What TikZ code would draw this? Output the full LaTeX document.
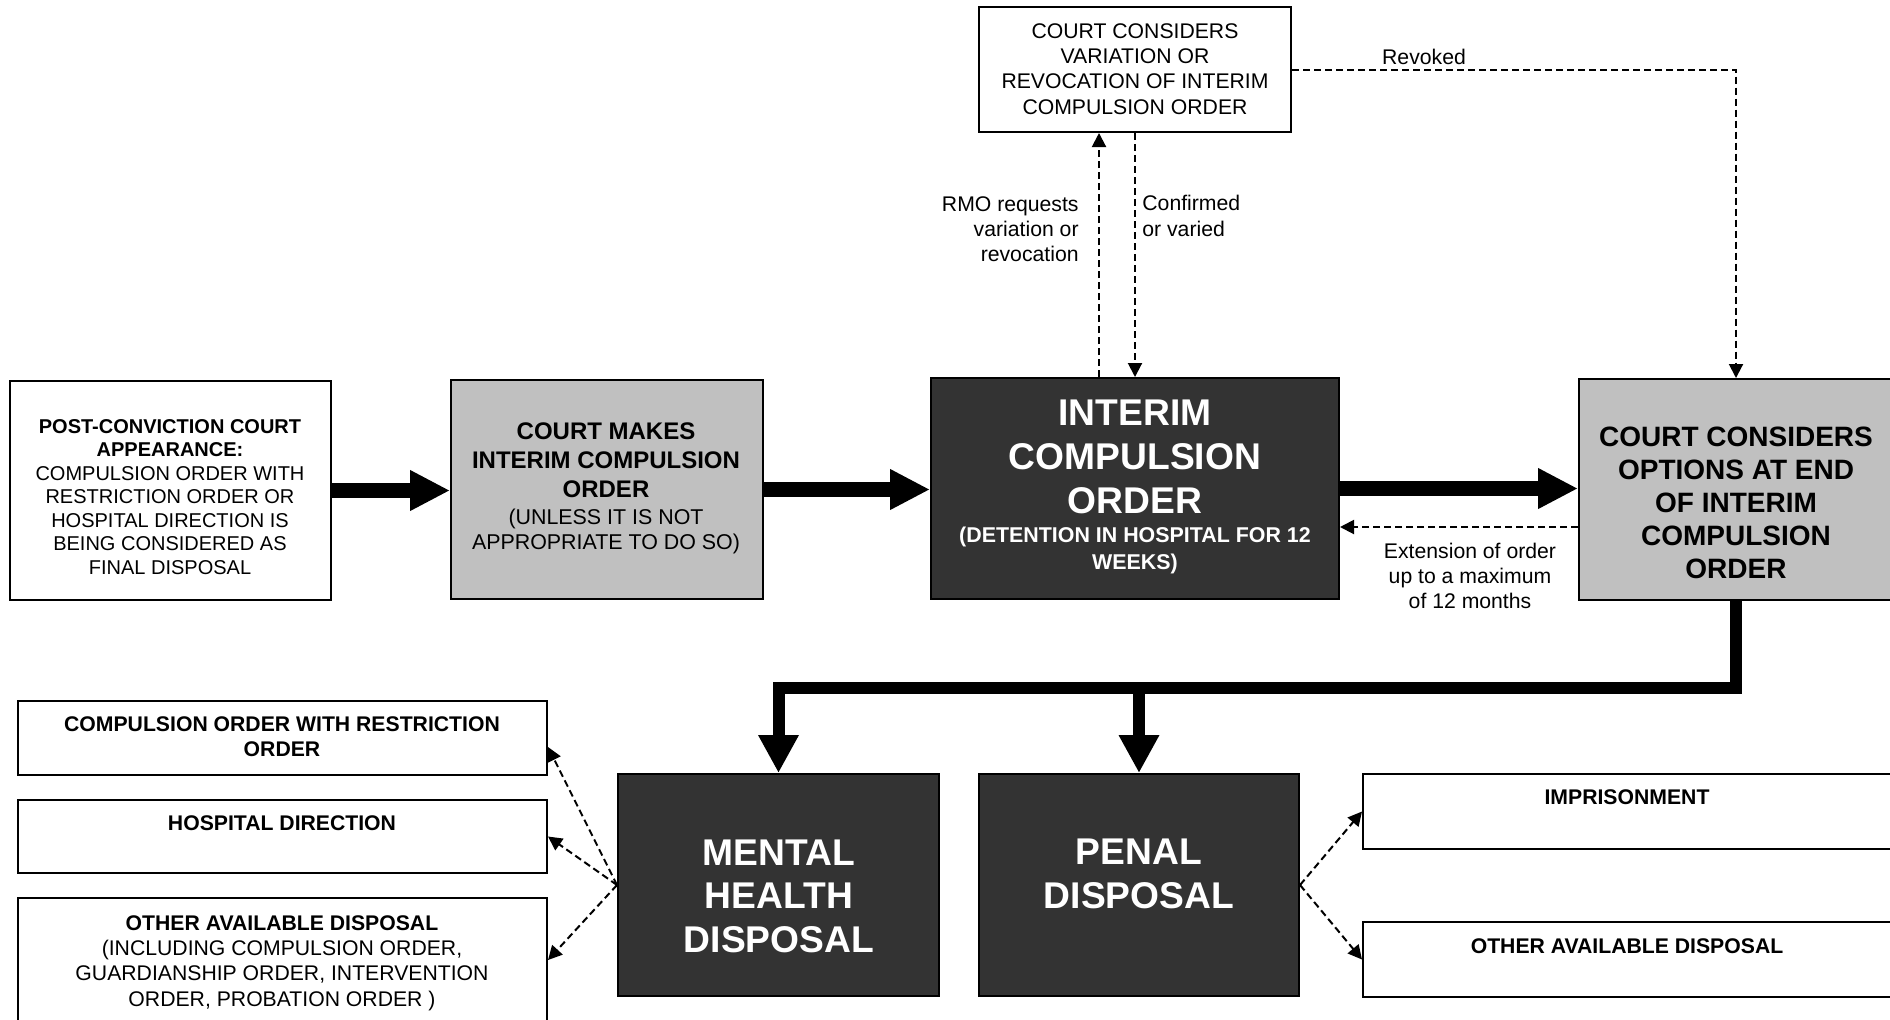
\documentclass[tikz,border=0pt]{standalone}
\usepackage{fontspec}
\setmainfont{Liberation Sans}
\usetikzlibrary{arrows.meta,fit,calc}

\definecolor{boxgrey}{HTML}{C0C0C0}
\definecolor{boxdark}{HTML}{333333}
\newcommand{\fsz}[2]{\fontsize{#1}{#2}\selectfont}

\begin{document}
\begin{tikzpicture}[x=0.5pt,y=-0.5pt,
  box/.style={draw=black, line width=1pt, inner sep=0pt},
  whitebox/.style={box, fill=white},
  greybox/.style={box, fill=boxgrey},
  darkbox/.style={box, fill=boxdark},
  txt/.style={inner sep=0pt, align=center},
  small/.style={txt, font=\fsz{10.6pt}{12.6pt}},
  smallbold/.style={txt, font=\bfseries\fsz{10.6pt}{12.6pt}},
  bigwhite/.style={txt, text=white, font=\bfseries\fsz{18.6pt}{21.8pt}},
  bigarrow/.style={line width=7.5pt, -{Triangle[length=20pt,width=19pt]}},
  busline/.style={line width=6pt, line join=miter},
  busarrow/.style={busline, -{Triangle[length=19pt,width=19pt]}},
  dasharrow/.style={line width=1pt, dash pattern=on 3.5pt off 2pt,
    -{Triangle[length=7pt,width=7pt]}}
]
\fill[white] (0,0) rectangle (1890,1019);
\useasboundingbox (0,0) rectangle (1890,1019);

% ---------- boxes ----------
\node[whitebox, fit={(10,381) (331,600)}] (post) {};
\node[greybox,  fit={(451,380) (763,599)}] (makes) {};
\node[darkbox,  fit={(931,378) (1339,599)}] (ico) {};
\node[greybox,  fit={(1579,379) (1893,600)}] (opts) {};
\node[whitebox, fit={(979,7) (1291,132)}] (var) {};
\node[darkbox,  fit={(618,774) (939,996)}] (mh) {};
\node[darkbox,  fit={(979,774) (1299,996)}] (pen) {};
\node[whitebox, fit={(18,701) (547,775)}] (cwro) {};
\node[whitebox, fit={(18,800) (547,873)}] (hosp) {};
\node[whitebox, fit={(18,898) (547,1022)}] (othL) {};
\node[whitebox, fit={(1363,774) (1893,849)}] (imp) {};
\node[whitebox, fit={(1363,922) (1893,997)}] (othR) {};

% ---------- box texts ----------
\node[txt, font=\fsz{10pt}{11.75pt}] (t-post) at (170,497)
  {\textbf{POST-CONVICTION COURT}\\\textbf{APPEARANCE:}\\COMPULSION ORDER WITH\\RESTRICTION ORDER OR\\HOSPITAL DIRECTION IS\\BEING CONSIDERED AS\\FINAL DISPOSAL};
\node[txt, font=\bfseries\fsz{12pt}{14.5pt}] (t-makes) at (606,460)
  {COURT MAKES\\INTERIM COMPULSION\\ORDER};
\node[txt, font=\fsz{10.7pt}{12.5pt}] (t-makes2) at (606,531)
  {(UNLESS IT IS NOT\\APPROPRIATE TO DO SO)};
\node[bigwhite, font=\bfseries\fsz{18.6pt}{22pt}] (t-ico) at (1135,457)
  {INTERIM\\COMPULSION\\ORDER};
\node[txt, text=white, font=\bfseries\fsz{10.7pt}{13.5pt}] (t-ico2) at (1135,550)
  {(DETENTION IN HOSPITAL FOR 12\\WEEKS)};
\node[txt, font=\bfseries\fsz{14pt}{16.5pt}] (t-opts) at (1736,503)
  {COURT CONSIDERS\\OPTIONS AT END\\OF INTERIM\\COMPULSION\\ORDER};
\node[small] (t-var) at (1135,69)
  {COURT CONSIDERS\\VARIATION OR\\REVOCATION OF INTERIM\\COMPULSION ORDER};
\node[bigwhite] (t-mh) at (779,896) {MENTAL\\HEALTH\\DISPOSAL};
\node[bigwhite] (t-pen) at (1139,874) {PENAL\\DISPOSAL};
\node[smallbold] (t-cwro) at (282,737) {COMPULSION ORDER WITH RESTRICTION\\ORDER};
\node[smallbold] (t-hosp) at (282,823) {HOSPITAL DIRECTION};
\node[small] (t-othL) at (282,963)
  {\textbf{OTHER AVAILABLE DISPOSAL}\\(INCLUDING COMPULSION ORDER,\\GUARDIANSHIP ORDER, INTERVENTION\\ORDER, PROBATION ORDER )};
\node[smallbold] (t-imp) at (1627,797) {IMPRISONMENT};
\node[smallbold] (t-othR) at (1627,946) {OTHER AVAILABLE DISPOSAL};

% ---------- main flow ----------
\draw[bigarrow] (post.east) -- (post.east -| makes.west);
\draw[bigarrow] (makes.east) -- (makes.east -| ico.west);
\draw[bigarrow] (ico.east) -- (ico.east -| opts.west);

\coordinate (bus) at (0,688);
\coordinate (busmh) at (bus -| mh.north);
\draw[busarrow] (opts.south) |- (busmh) -- (mh.north);
\draw[busarrow] (bus -| pen.north) -- (pen.north);

% ---------- variation / revocation loop ----------
\coordinate (rmo) at (1099,0);
\draw[dasharrow] (ico.north -| rmo) -- (var.south -| rmo);
\draw[dasharrow] (var.south) -- (ico.north);
\draw[dasharrow] (var.east) -| (opts.north);
\node[small, align=right, anchor=east] (l-rmo) at (1079,229)
  {RMO requests\\variation or\\revocation};
\node[small, align=left, anchor=west] (l-conf) at (1142,216)
  {Confirmed\\or varied};
\node[small] (l-rev) at (1424,57) {Revoked};

% ---------- extension ----------
\coordinate (ext) at (0,527);
\draw[dasharrow] (opts.west |- ext) -- (ico.east |- ext);
\node[small] (l-ext) at (1470,576) {Extension of order\\up to a maximum\\of 12 months};

% ---------- disposal options ----------
\draw[dasharrow] (mh.west) -- ($(cwro.east)+(0,9)$);
\draw[dasharrow] (mh.west) -- (hosp.east);
\draw[dasharrow] (mh.west) -- (othL.east);
\draw[dasharrow] (pen.east) -- (imp.west);
\draw[dasharrow] (pen.east) -- (othR.west);
\end{tikzpicture}
\end{document}
